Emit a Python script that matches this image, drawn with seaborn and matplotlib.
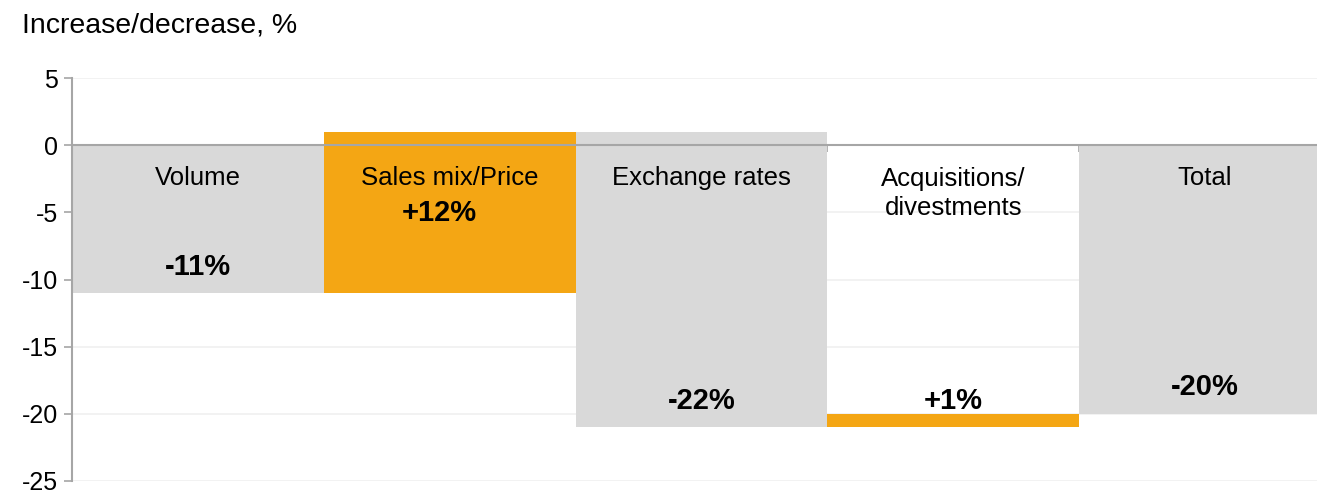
import matplotlib
matplotlib.use("Agg")
import matplotlib.pyplot as plt
import seaborn as sns
import numpy as np

# Sales bridge: contribution of each driver, in percentage points
categories = ["Volume", "Sales mix/Price", "Exchange rates", "Acquisitions/\ndivestments", "Total"]
deltas = [-11, 12, -22, 1]
total = -20
value_labels = ["-11%", "+12%", "-22%", "+1%", "-20%"]
y_ticks = [5, 0, -5, -10, -15, -20, -25]

GREY = "#D9D9D9"
ORANGE = "#F4A614"
AXIS = "#A6A6A6"
GRID = "#F0F0F0"
TEXT = "#000000"

# Waterfall geometry: each step starts where the previous one ended
starts = np.concatenate([[0], np.cumsum(deltas)[:-1]])
heights = list(deltas) + [total]
bottoms = list(starts) + [0]
colors = [GREY if h < 0 else ORANGE for h in deltas] + [GREY]

sns.set_theme(style="white")
plt.rcParams["font.family"] = ["Liberation Sans", "DejaVu Sans"]
plt.rcParams["axes.unicode_minus"] = False

W, H = 1317, 493
fig = plt.figure(figsize=(W / 100, H / 100), dpi=100)
# the last column runs slightly past the right edge of the figure
ax = fig.add_axes([72 / W, 12 / H, (1331 - 72) / W, (481 - 78) / H])

sns.barplot(x=categories, y=heights, bottom=bottoms, width=1.0,
            color=GREY, errorbar=None, linewidth=0, ax=ax)
for patch, c in zip(ax.patches, colors):
    patch.set_facecolor(c)

ax.set_ylim(-25, 5)
ax.set_xlim(-0.5, 4.5)
ax.set_yticks(y_ticks)
ax.set_yticklabels([str(t) for t in y_ticks])
ax.set_axisbelow(True)
ax.yaxis.grid(True, color=GRID, linewidth=1.2)
ax.xaxis.grid(False)

# Zero line carries the category-boundary ticks
ax.spines["bottom"].set_position(("data", 0))
ax.spines["bottom"].set_color(AXIS)
ax.spines["bottom"].set_linewidth(1.5)
ax.spines["bottom"].set_zorder(3)
ax.spines["left"].set_color(AXIS)
ax.spines["left"].set_linewidth(1.5)
ax.spines["top"].set_visible(False)
ax.spines["right"].set_visible(False)
ax.set_xticks(np.arange(len(categories)) + 0.5)
ax.set_xticklabels([])
ax.tick_params(axis="x", direction="out", length=5, width=1.2, color=AXIS, bottom=True)
ax.tick_params(axis="y", direction="out", length=6, width=1.2, color=AXIS, left=True,
               labelsize=18, labelcolor=TEXT, pad=4)
ax.set_xlabel("")
ax.set_ylabel("")

# Category names inside the bars (first baseline shared), and the step values
name_y = -3.0
line_step = 2.23
value_y = [-9.68, -5.64, -19.66, -19.66, -18.6]
for i, name in enumerate(categories):
    n_lines = name.count("\n") + 1
    ax.text(i, name_y - (n_lines - 1) * line_step, name, ha="center", va="baseline",
            fontsize=18.5, color=TEXT, linespacing=1.3)
    ax.text(i - (0.04 if i == 1 else 0), value_y[i], value_labels[i], ha="center",
            va="baseline", fontsize=21, fontweight="bold", color=TEXT)

fig.text(22 / W, 1 - 33 / H, "Increase/decrease, %", ha="left", va="baseline",
         fontsize=20.5, color=TEXT)

fig.savefig("out.png", dpi=100)
